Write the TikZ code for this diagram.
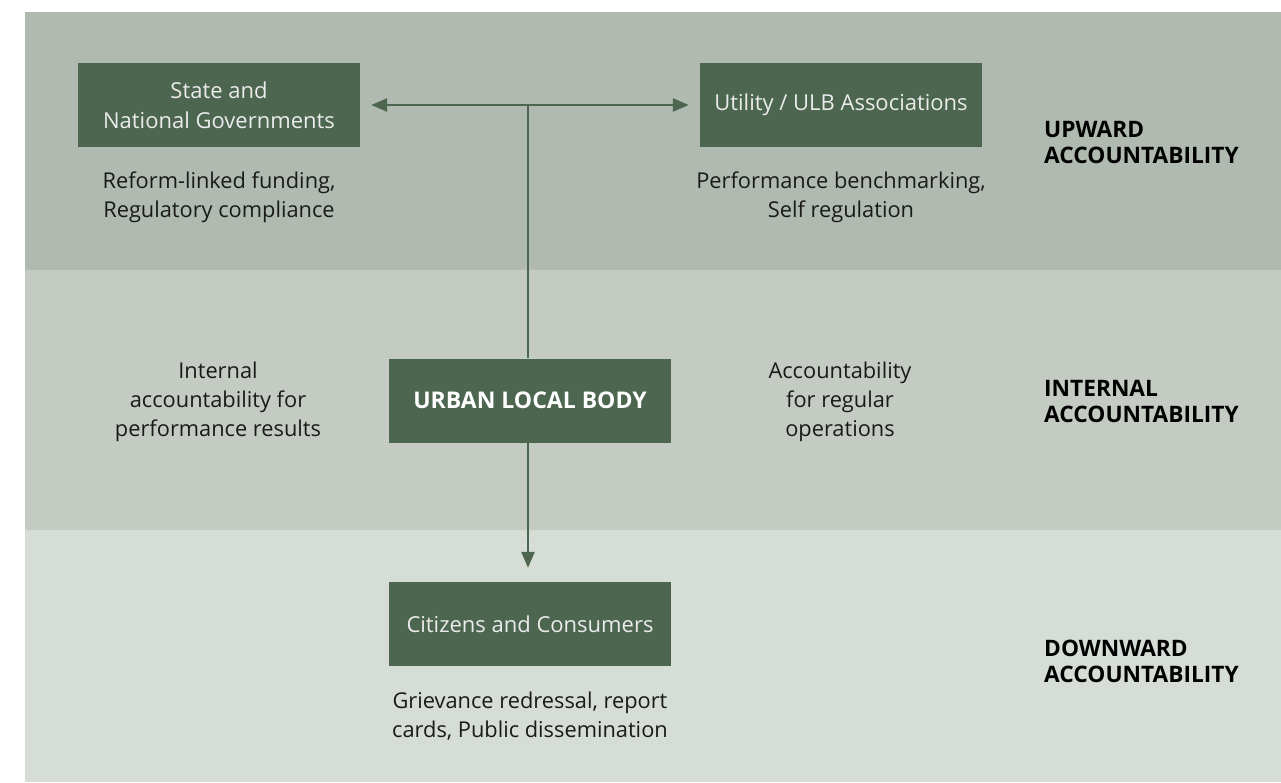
\documentclass[tikz,border=0pt]{standalone}
\usepackage{fontspec}
\setmainfont{Open Sans}
\usetikzlibrary{arrows.meta}
\definecolor{bandA}{HTML}{B0BAB0}
\definecolor{bandB}{HTML}{C4CBC3}
\definecolor{bandC}{HTML}{D6DDD6}
\definecolor{boxgreen}{HTML}{4C6650}
\definecolor{txt}{HTML}{1A1A1A}
\tikzset{
  gbox/.style={fill=boxgreen, text=white!92!black, minimum width=282pt, minimum height=84pt,
    inner sep=0pt, align=center, font=\fontsize{22}{30}\selectfont},
  lbl/.style={text=txt, align=center, inner sep=0pt, font=\fontsize{21.8}{29}\selectfont},
  side/.style={text=black, align=left, anchor=west, inner sep=0pt, font=\bfseries\fontsize{22.7}{26}\selectfont},
  conn/.style={draw=boxgreen, line width=2.6pt, arrows={-Triangle[length=16pt,width=13pt]}},
  plain/.style={draw=boxgreen, line width=2.6pt}
}
\begin{document}
\begin{tikzpicture}[x=1pt,y=-1pt]
\useasboundingbox (0,0) rectangle (1281,782);
\fill[bandA] (25,12) rectangle (1281,270);
\fill[bandB] (25,270) rectangle (1281,530);
\fill[bandC] (25,530) rectangle (1281,782);

\node[gbox] (state) at (219,105) {State and\\National Governments};
\node[gbox] (util) at (841,105) {Utility / ULB Associations};
\node[gbox, font=\bfseries\fontsize{23}{29}\selectfont, text=white] (ulb) at (530,400.5) {URBAN LOCAL BODY};
\node[gbox] (cit) at (530,624) {Citizens and Consumers};

\node[lbl] (l1) at (219,197.5) {Reform-linked funding,\\Regulatory compliance};
\node[lbl] (l2) at (841,197.5) {Performance benchmarking,\\Self regulation};
\node[lbl] (l3) at (218,401.5) {Internal\\accountability for\\performance results};
\node[lbl] (l4) at (840,401.5) {Accountability\\for regular\\operations};
\node[lbl] (l5) at (530,716) {Grievance redressal, report\\cards, Public dissemination};

\node[side] (s1) at (1044,142) {UPWARD\\ACCOUNTABILITY};
\node[side] (s2) at (1044,401) {INTERNAL\\ACCOUNTABILITY};
\node[side] (s3) at (1044,661) {DOWNWARD\\ACCOUNTABILITY};

\coordinate (j) at (528,105);
\draw[conn, arrows={Triangle[length=16pt,width=13pt]-Triangle[length=16pt,width=13pt]}, shorten <=11pt, shorten >=11pt] (state.east) -- (util.west);
\draw[plain] (j) -- (j |- ulb.north);
\draw[conn, shorten >=14pt] (j |- ulb.south) -- (j |- cit.north);
\end{tikzpicture}
\end{document}
